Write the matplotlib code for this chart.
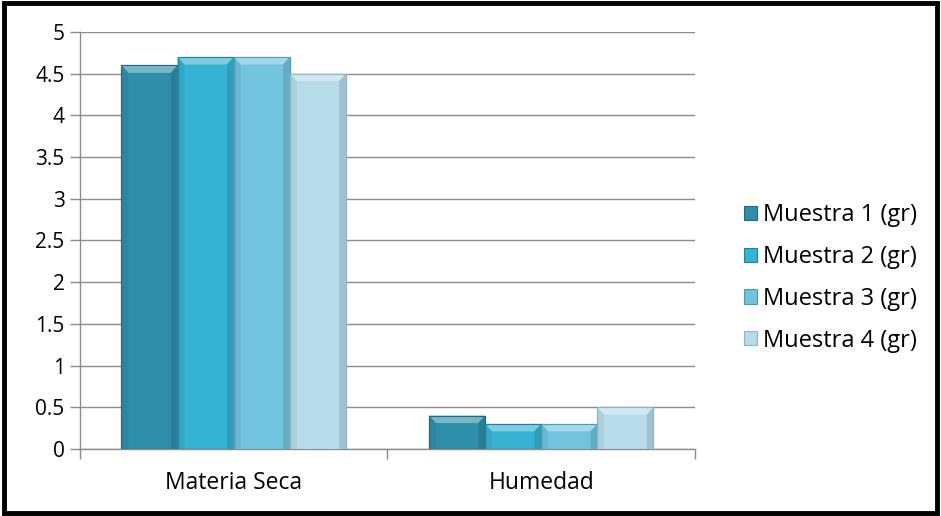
import numpy as np
import matplotlib.pyplot as plt
import matplotlib.colors as mc
from matplotlib.patches import Polygon, Rectangle

plt.rcParams['font.family'] = ['Open Sans', 'DejaVu Sans']

categories = ["Materia Seca", "Humedad"]
series_names = ["Muestra 1 (gr)", "Muestra 2 (gr)", "Muestra 3 (gr)", "Muestra 4 (gr)"]
muestra_1 = [4.6, 0.4]
muestra_2 = [4.7, 0.3]
muestra_3 = [4.7, 0.3]
muestra_4 = [4.5, 0.5]
series = [muestra_1, muestra_2, muestra_3, muestra_4]
colors = ["#2f8fab", "#36b2d2", "#72c3de", "#b6dcea"]
edges = ["#1f6a80", "#23809a", "#4f9ab3", "#8fb5c3"]

fig = plt.figure(figsize=(9.41, 5.16), dpi=100)
ax = fig.add_axes([0.085, 0.130, 0.6535, 0.808])

x = np.arange(len(categories))
width = 0.73 / 4


def lighten(c, f):
    r, g, b = mc.to_rgb(c)
    return (r + (1 - r) * f, g + (1 - g) * f, b + (1 - b) * f)


def darken(c, f):
    r, g, b = mc.to_rgb(c)
    return (r * (1 - f), g * (1 - f), b * (1 - f))


for i, vals in enumerate(series):
    pos = x + (i - 1.5) * width
    bars = ax.bar(pos, vals, width, color=colors[i], edgecolor=edges[i],
                  linewidth=0.8, zorder=3, label=series_names[i])
    # bevelled top and sides
    for b in bars:
        x0, w, h = b.get_x(), b.get_width(), b.get_height()
        bw = w * 0.12
        bh = min(0.09, h * 0.3)
        top = Polygon([[x0, h], [x0 + w, h], [x0 + w - bw, h - bh], [x0 + bw, h - bh]],
                      closed=True, facecolor=lighten(colors[i], 0.35), edgecolor='none', zorder=4)
        left = Polygon([[x0, h], [x0 + bw, h - bh], [x0 + bw, 0], [x0, 0]],
                       closed=True, facecolor=darken(colors[i], 0.06), edgecolor='none', zorder=4)
        right = Polygon([[x0 + w, h], [x0 + w - bw, h - bh], [x0 + w - bw, 0], [x0 + w, 0]],
                        closed=True, facecolor=darken(colors[i], 0.12), edgecolor='none', zorder=4)
        for p in (top, left, right):
            ax.add_patch(p)
        ax.add_patch(Rectangle((x0, 0), w, h, fill=False, edgecolor=edges[i], linewidth=0.8, zorder=5))

ax.set_xlim(-0.5, 1.5)
ax.set_ylim(0, 5)
ax.set_yticks(np.arange(0, 5.01, 0.5))
ax.set_yticklabels(["0", "0.5", "1", "1.5", "2", "2.5", "3", "3.5", "4", "4.5", "5"])
ax.yaxis.grid(True, color="#8c8c8c", linewidth=1.0, zorder=0)
ax.set_axisbelow(True)

ax.set_xticks([-0.5, 0.5, 1.5])
ax.set_xticklabels([])
ax.set_xticks(x, minor=True)
ax.set_xticklabels(categories, minor=True)
ax.tick_params(axis='x', which='minor', length=0, pad=16, labelsize=16.5)
ax.tick_params(axis='x', which='major', length=7, color="#8c8c8c", width=1.0)
ax.tick_params(axis='y', length=7, color="#8c8c8c", width=1.0, labelsize=15, pad=4)

for s in ['top', 'right']:
    ax.spines[s].set_visible(False)
for s in ['left', 'bottom']:
    ax.spines[s].set_color("#8c8c8c")
    ax.spines[s].set_linewidth(1.0)

leg = ax.legend(loc='center left', bbox_to_anchor=(1.045, 0.41), frameon=False,
                fontsize=17, handlelength=0.55, handleheight=0.55,
                handletextpad=0.25, labelspacing=0.75)

# outer black frame
fig.patches.append(Rectangle((0.004, 0.006), 0.992, 0.988, transform=fig.transFigure,
                             fill=False, edgecolor='black', linewidth=3.5))

fig.savefig("out.png", dpi=100)
